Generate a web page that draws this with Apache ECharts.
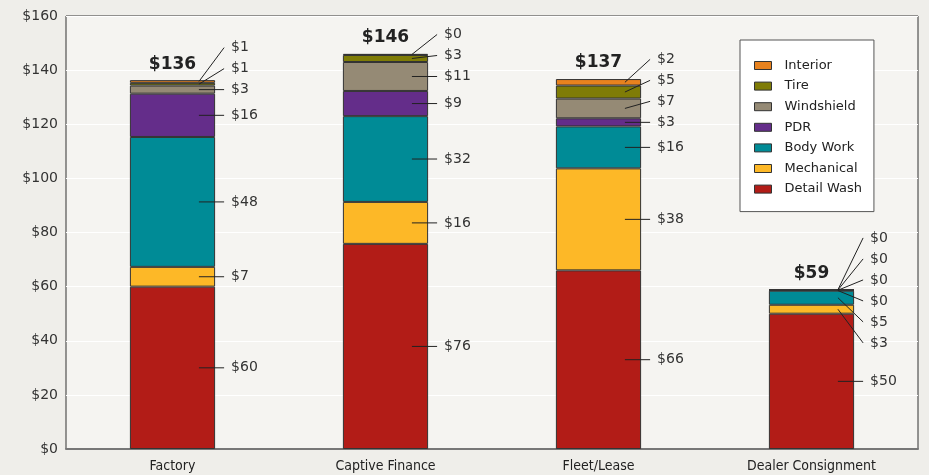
<!DOCTYPE html>
<html>
<head>
<meta charset="utf-8">
<script src="https://cdn.jsdelivr.net/npm/echarts@6/dist/echarts.min.js"></script>
<style>
  html, body { margin: 0; padding: 0; background: #efeeea; }
  #chart { width: 929px; height: 475px; }
</style>
</head>
<body>
<div id="chart"></div>
<script>
const categories = ["Factory", "Captive Finance", "Fleet/Lease", "Dealer Consignment"];
// stack order, bottom to top
const seriesNames = ["Detail Wash", "Mechanical", "Body Work", "PDR", "Windshield", "Tire", "Interior"];
const detailWash = [60, 75.8, 66, 50];
const mechanical = [7.3, 15.5, 37.7, 3.3];
const bodyWork = [48, 31.7, 15.5, 5.2];
const pdr = [16, 9.3, 3, 0.1];
const windshield = [3, 10.7, 7.3, 0.1];
const tire = [1, 2.6, 4.8, 0.1];
const interior = [1, 0.4, 2.4, 0.1];
const colors = ["#b21c17", "#fdb827", "#008b96", "#642d8a", "#958a75", "#7f7c06", "#e8821e"];

const stackData = [detailWash, mechanical, bodyWork, pdr, windshield, tire, interior];
const FONT = "'DejaVu Sans', sans-serif";

// value labels with leader lines, placed to the right of each bar
function renderLabels(params, api) {
  const i = api.value(0);
  const bw = api.size([1, 0])[0] * 0.4;
  const cx = api.coord([i, 0])[0];
  let cum = 0;
  const items = stackData.map(arr => {
    const v = arr[i];
    const mid = cum + v / 2;
    cum += v;
    return { v: v, ty: api.coord([i, mid])[1] };
  });
  const gap = 21;
  // push overlapping labels upward
  items.forEach((it, k) => {
    it.y = k === 0 ? it.ty : Math.min(it.ty, items[k - 1].y - gap);
  });
  // big clusters get centred on the median target
  const clusters = [];
  items.forEach((it, k) => {
    if (k > 0 && it.y < it.ty - 0.01) clusters[clusters.length - 1].push(it);
    else clusters.push([it]);
  });
  clusters.forEach(cl => {
    if (cl.length < 5) return;
    const t = cl.map(it => it.ty).sort((a, b) => a - b);
    const n = t.length;
    const med = n % 2 ? t[(n - 1) / 2] : (t[n / 2 - 1] + t[n / 2]) / 2;
    cl.forEach((it, j) => { it.y = med + ((n - 1) / 2 - j) * gap; });
  });

  const x0 = cx + bw * 0.31;
  const x1 = cx + bw / 2 + 9;
  const children = [];
  items.forEach(it => {
    children.push({
      type: "line",
      shape: { x1: x0, y1: it.ty, x2: x1, y2: it.y },
      style: { stroke: "#222", lineWidth: 1 }
    });
    children.push({
      type: "text",
      x: x1 + 7, y: it.y,
      style: {
        text: "$" + Math.round(it.v), verticalAlign: "middle",
        fill: "#333", fontSize: 14, fontFamily: FONT
      }
    });
  });
  const topY = api.coord([i, cum])[1];
  children.push({
    type: "text",
    x: cx, y: topY - 16,
    style: {
      text: "$" + Math.round(cum), align: "center", verticalAlign: "middle",
      fill: "#222", fontSize: 17, fontWeight: "bold", fontFamily: FONT
    }
  });
  return { type: "group", children: children };
}

const chart = echarts.init(document.getElementById("chart"));

const series = seriesNames.map((name, k) => ({
  name: name,
  type: "bar",
  stack: "total",
  barWidth: "40%",
  data: stackData[k],
  itemStyle: { color: colors[k], borderColor: "#333", borderWidth: 1 },
  emphasis: { disabled: true }
}));
series.push({
  type: "custom",
  renderItem: renderLabels,
  data: categories.map((c, i) => [i, 0]),
  encode: { x: 0, y: 1 },
  z: 10,
  silent: true
});

chart.setOption({
  backgroundColor: "#efeeea",
  animation: false,
  grid: {
    left: 66, right: 11, top: 16, bottom: 26,
    show: true, backgroundColor: "#f5f4f1",
    borderColor: "#333", borderWidth: 1
  },
  legend: {
    data: seriesNames.slice().reverse(),
    orient: "vertical",
    left: 740, top: 40,
    icon: "rect",
    itemWidth: 17, itemHeight: 8, itemGap: 7.6,
    backgroundColor: "#fff",
    borderColor: "#555", borderWidth: 1,
    padding: [19, 12, 16, 14],
    itemStyle: { borderColor: "#333", borderWidth: 1 },
    textStyle: { fontSize: 13, color: "#222", fontFamily: FONT, lineHeight: 13, padding: [0, 0, 0, 8] }
  },
  xAxis: {
    type: "category",
    data: categories,
    axisTick: { show: false },
    axisLine: { lineStyle: { color: "#777", width: 2 } },
    axisLabel: {
      margin: 10, fontSize: 14, color: "#222",
      fontFamily: "'DejaVu Sans Condensed', 'Liberation Sans Narrow', sans-serif"
    }
  },
  yAxis: {
    type: "value",
    min: 0, max: 160, interval: 20,
    axisLine: { show: false },
    axisTick: { show: false },
    splitLine: { lineStyle: { color: "#ffffff", width: 1 } },
    axisLabel: {
      formatter: "${value}", margin: 8, fontSize: 14, color: "#333", fontFamily: FONT
    }
  },
  series: series
});
</script>
</body>
</html>
